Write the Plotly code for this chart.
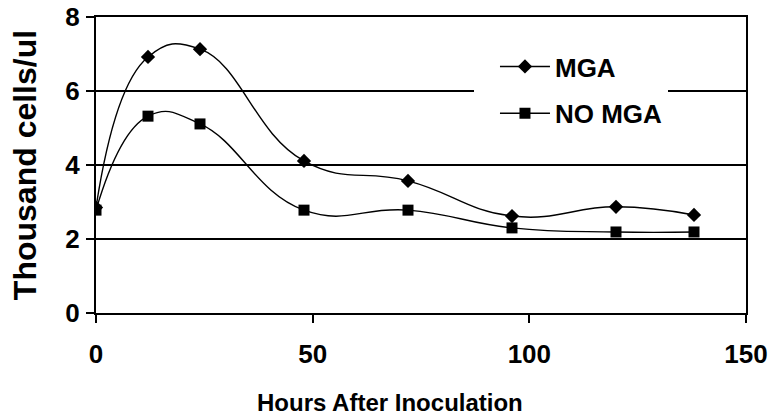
import plotly.graph_objects as go

hours = [0, 12, 24, 48, 72, 96, 120, 138]
mga = [2.85, 6.92, 7.13, 4.11, 3.57, 2.62, 2.87, 2.65]
no_mga = [2.78, 5.32, 5.11, 2.78, 2.78, 2.30, 2.19, 2.19]

x_ticks = [0, 50, 100, 150]
y_ticks = [0, 2, 4, 6, 8]

x_title = "Hours After Inoculation"
y_title = "Thousand cells/ul"

font_family = "Liberation Sans, Arial, sans-serif"
bold = dict(family=font_family, color="black", weight="bold")

fig = go.Figure()
fig.add_trace(go.Scatter(
    x=hours, y=mga, name="MGA", mode="lines+markers", legendgroup="a",
    line=dict(color="black", width=1.4, shape="spline", smoothing=1.3),
    marker=dict(symbol="diamond", size=11, color="black"),
))
fig.add_trace(go.Scatter(
    x=hours, y=no_mga, name="NO MGA", mode="lines+markers", legendgroup="b",
    line=dict(color="black", width=1.4, shape="spline", smoothing=1.3),
    marker=dict(symbol="square", size=11, color="black"),
))

fig.update_layout(
    width=773, height=417,
    margin=dict(l=96, r=27, t=17, b=104),
    paper_bgcolor="white", plot_bgcolor="white",
    font=dict(family=font_family, size=20, color="black"),
    showlegend=True,
    legend=dict(
        x=0.5815, y=0.912, xanchor="left", yanchor="top",
        bgcolor="white", borderwidth=0,
        font=dict(size=26, **bold),
        itemsizing="trace", tracegroupgap=10, itemwidth=50, indentation=21,
    ),
    xaxis=dict(
        range=[0, 150], tickvals=x_ticks, ticktext=[str(v) for v in x_ticks],
        showgrid=False, zeroline=False, automargin=False,
        showline=True, linecolor="black", linewidth=2, mirror=True,
        ticks="outside", ticklen=8, tickwidth=2, tickcolor="black",
        ticklabelstandoff=9, ticklabeloverflow="allow",
        tickfont=dict(size=26, **bold),
    ),
    yaxis=dict(
        range=[0, 8], tickvals=y_ticks, ticktext=[str(v) for v in y_ticks],
        showgrid=True, gridcolor="black", gridwidth=1.6, zeroline=False,
        automargin=False,
        showline=True, linecolor="black", linewidth=2, mirror=True,
        ticks="outside", ticklen=8, tickwidth=2, tickcolor="black",
        ticklabelstandoff=1, ticklabeloverflow="allow",
        tickfont=dict(size=26, **bold),
        title=dict(text=y_title, standoff=19,
                   font=dict(size=32, **bold)),
    ),
    annotations=[dict(
        text=x_title, xref="paper", yref="paper", x=0.4523, y=-0.3007,
        xanchor="center", yanchor="middle", showarrow=False,
        font=dict(size=24, **bold),
    )],
)

# remove the default 8px page margin so the figure fills the window exactly
fig.write_html("out.html", config={"displayModeBar": False},
               post_script="document.body.style.margin='0';")
